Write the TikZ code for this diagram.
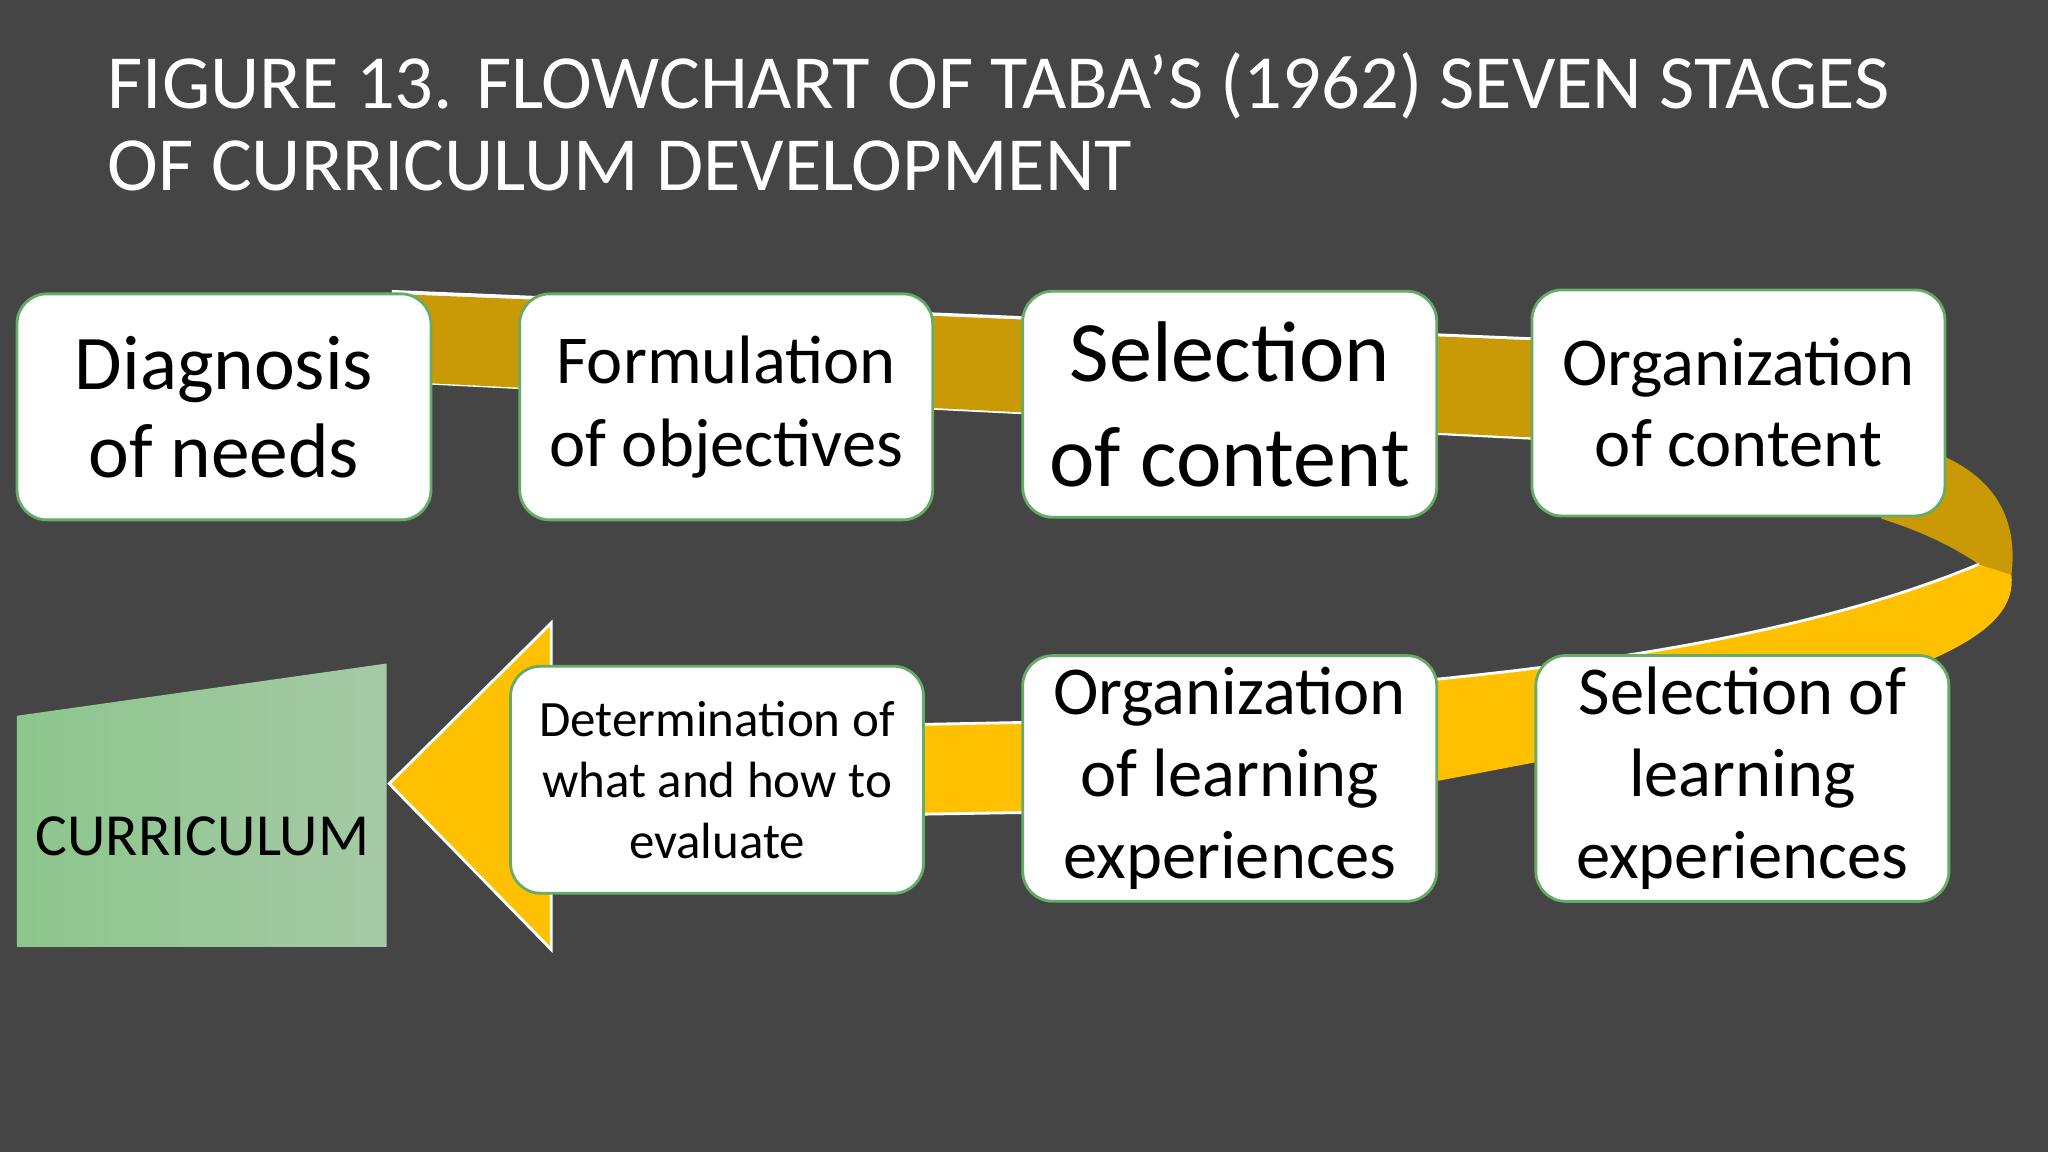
\documentclass[tikz,border=0pt]{standalone}
\usepackage{fontspec}
\setmainfont{Carlito}
\definecolor{gold}{HTML}{C99A06}
\definecolor{yel}{HTML}{FFC000}
\definecolor{bg}{HTML}{454545}
\begin{document}
\begin{tikzpicture}[x=0.01306cm,y=-0.01306cm,
  box/.style={draw=green!45!black!60,line width=0.8pt,fill=white,rounded corners=0.3cm,align=center,text=black},
  ]
\useasboundingbox (0,0) rectangle (1568,882);
\fill[bg] (0,0) rectangle (1568,882);
% title
\node[anchor=north west,text=white,align=left,font=\fontsize{21.8}{23.2}\selectfont,inner sep=0pt] (title) at (82,40) {FIGURE 13. FLOWCHART OF TABA’S (1962) SEVEN STAGES\\OF CURRICULUM DEVELOPMENT};
% ribbon top
\fill[white] (300,222) -- (1480,271) -- (1480,275) -- (300,226) -- cycle;
\fill[white] (300,290) -- (1480,349) -- (1480,352) -- (300,293) -- cycle;
\fill[gold] (300,225) -- (1480,273) -- (1480,350) -- (300,292) -- cycle;
\fill[gold] (1480,346) .. controls (1530,365) and (1545,400) .. (1540,440) -- (1515,432) .. controls (1490,415) and (1465,405) .. (1440,397) -- cycle;
\fill[yel] (1540,440) .. controls (1545,485) and (1480,515) .. (1300,560) -- (1100,598) -- (1100,520) .. controls (1250,505) and (1400,480) .. (1515,432) -- cycle;
\draw[white,line width=0.8pt] (1515,432) .. controls (1400,480) and (1250,505) .. (1100,520);
\fill[yel,draw=white,line width=0.8pt] (298,600) -- (422,477) -- (422,560) -- (790,553) -- (790,622) -- (422,628) -- (422,727) -- cycle;
% curriculum
\path[left color=green!50!black!45,right color=green!40!black!35] (13,548) -- (296,508) -- (296,725) -- (13,725) -- cycle;
\node[font=\fontsize{17}{20}\selectfont,text=black] (curr) at (155,640) {CURRICULUM};
% boxes
\node[box,font=\fontsize{22}{25}\selectfont,minimum width=4.14cm,minimum height=2.26cm] (d1) at (171.5,311.5) {Diagnosis\\of needs};
\node[box,font=\fontsize{19.5}{23.7}\selectfont,minimum width=4.13cm,minimum height=2.26cm] (d2) at (556,311.5) {Formulation\\of objectives};
\node[box,font=\fontsize{24.5}{29.8}\selectfont,minimum width=4.14cm,minimum height=2.26cm] (d3) at (941.5,309.5) {Selection\\of content};
\node[box,font=\fontsize{19.5}{23}\selectfont,minimum width=4.13cm,minimum height=2.26cm] (d4) at (1331,308.5) {Organization\\of content};
\node[box,font=\fontsize{19.5}{23.3}\selectfont,minimum width=4.13cm,minimum height=2.27cm] (d5) at (1334,596) {Selection of\\learning\\experiences};
\node[box,font=\fontsize{19.5}{23.3}\selectfont,minimum width=4.14cm,minimum height=2.27cm] (d6) at (941.5,596) {Organization\\of learning\\experiences};
\node[box,font=\fontsize{14.5}{17.4}\selectfont,minimum width=4.13cm,minimum height=2.27cm] (d7) at (549,597) {Determination of\\what and how to\\evaluate};
\end{tikzpicture}
\end{document}
